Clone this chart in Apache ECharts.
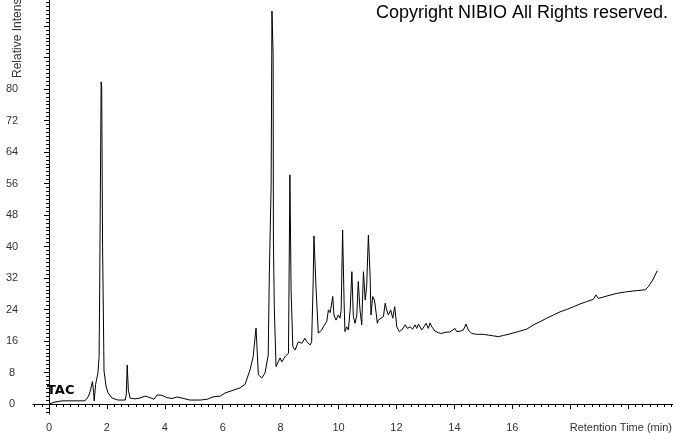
<!DOCTYPE html>
<html><head><meta charset="utf-8">
<script src="https://cdn.jsdelivr.net/npm/echarts@6/dist/echarts.min.js"></script>
<style>html,body{margin:0;padding:0;background:#fff}#c{width:673px;height:433px}</style>
</head><body><div id="c"></div>
<script>
// Retention time (min)
const times = [0,0.21,0.45,0.90,1.24,1.35,1.42,1.50,1.54,1.56,1.61,1.64,1.69,1.73,1.75,1.80,1.82,1.85,1.90,1.97,2.04,2.18,2.38,2.63,2.67,2.70,2.74,2.80,2.97,3.14,3.32,3.49,3.63,3.73,3.90,4.08,4.25,4.42,4.59,4.87,5.22,5.46,5.66,5.91,6.08,6.32,6.60,6.77,6.94,7.05,7.15,7.23,7.35,7.46,7.52,7.57,7.61,7.67,7.70,7.74,7.75,7.78,7.84,7.90,7.98,8.04,8.15,8.27,8.32,8.36,8.42,8.50,8.61,8.73,8.84,8.90,9.02,9.07,9.12,9.15,9.22,9.30,9.42,9.47,9.59,9.65,9.71,9.80,9.84,9.91,9.99,10.05,10.09,10.14,10.19,10.22,10.28,10.34,10.40,10.46,10.51,10.57,10.63,10.68,10.74,10.80,10.86,10.92,10.97,11.03,11.06,11.09,11.12,11.18,11.24,11.30,11.34,11.37,11.43,11.55,11.61,11.66,11.72,11.80,11.87,11.94,12.01,12.10,12.18,12.30,12.38,12.47,12.56,12.64,12.70,12.76,12.87,12.95,13.02,13.10,13.16,13.22,13.33,13.45,13.56,13.68,13.85,14.02,14.08,14.20,14.31,14.40,14.48,14.60,14.77,15.00,15.17,15.35,15.52,15.69,15.92,16.21,16.50,16.73,16.96,17.19,17.42,17.65,17.88,18.11,18.34,18.57,18.80,18.89,18.97,19.26,19.61,19.95,20.30,20.59,20.70,20.85,21.01];
// Relative intensity
const intensity = [0,0.5,0.8,0.8,0.8,1.8,3.1,5.7,3.0,0.8,5.0,6.1,7.9,12,29,81.8,80.5,40,8.4,4.5,2.8,1.5,1.0,1.0,2.5,9.9,3.5,1.5,1.3,1.5,2.0,1.6,1.2,2.3,2.2,1.6,1.4,1.8,1.5,1.0,1.0,1.2,1.8,2.0,2.8,3.4,4.1,5.0,8.6,12,19.3,7.4,6.6,7.9,7.5,12.4,33.5,54.9,99.8,88.6,41.6,24.7,9.5,9.1,11.7,10.7,12.0,12.9,58.2,29,14.6,13.7,15.8,15.4,16.7,15.8,15.0,15.8,30,42.7,29.8,18,18.8,19.6,20.9,23.9,23.2,27.3,22.6,21.3,22.6,21.8,23.9,44.2,26,18.4,19.6,18.8,23.9,33.6,22.2,20.5,22.6,31.1,23.9,20.1,33.6,26.4,29.8,42.9,43.3,32.3,22.6,27.3,26.4,23.0,20.5,21.3,21.8,22.2,25.6,23.9,22.6,23.9,21.8,24.7,19.6,18.4,18.8,20.1,19.2,19.6,19.0,20.1,19.2,20.3,18.8,19.6,20.5,19.2,20.6,19.6,18.5,18.1,17.9,18.2,18.3,19.2,18.4,18.5,18.8,20.3,18.8,17.9,17.7,17.7,17.5,17.3,17.1,17.4,17.8,18.4,19.0,20.1,20.9,21.8,22.6,23.4,24.0,24.7,25.4,26.0,26.6,27.7,26.8,27.4,28.1,28.5,28.8,29.0,29.8,31.5,33.9];
const xTickLabels = [0,2,4,6,8,10,12,14,16];
const yTickLabels = [0,8,16,24,32,40,48,56,64,72,80];

const xMajor = [], xMinor = [], yMajor = [], yMinor = [];
for (let v = -0.5; v <= 21.5 + 1e-9; v += 0.25) {
  const r = Math.round(v * 100) / 100;
  if (Math.abs(r / 2 - Math.round(r / 2)) < 1e-6) xMajor.push(r); else xMinor.push(r);
}
for (let v = -2; v <= 102; v++) { if (v % 8 === 0) yMajor.push(v); else yMinor.push(v); }

const XMIN = -0.553, XMAX = 21.55, YMIN = -2.54, YMAX = 102.6;
const labelStyle = { color: '#333', fontFamily: 'Liberation Sans, Arial, sans-serif', fontSize: 11 };
const chart = echarts.init(document.getElementById('c'), null, { renderer: 'canvas' });
chart.setOption({
  animation: false,
  backgroundColor: '#fff',
  grid: { left: 33, right: 0, top: 0, bottom: 19, containLabel: false },
  xAxis: [
    { type: 'value', min: XMIN, max: XMAX, position: 'bottom',
      axisLine: { show: true, lineStyle: { color: '#000', width: 1 } },
      axisTick: { show: true, length: 5, customValues: xMajor, lineStyle: { color: '#000' } },
      axisLabel: { show: true, margin: 8, customValues: xTickLabels, ...labelStyle },
      splitLine: { show: false } },
    { type: 'value', min: XMIN, max: XMAX, position: 'bottom',
      axisLine: { show: false },
      axisTick: { show: true, length: 3, customValues: xMinor, lineStyle: { color: '#000' } },
      axisLabel: { show: false }, splitLine: { show: false } }
  ],
  yAxis: [
    { type: 'value', min: YMIN, max: YMAX, position: 'left',
      axisLine: { show: true, lineStyle: { color: '#000', width: 1 } },
      axisTick: { show: true, length: 5, customValues: yMajor, lineStyle: { color: '#000' } },
      axisLabel: { show: true, margin: 21, align: 'center', customValues: yTickLabels, ...labelStyle },
      splitLine: { show: false } },
    { type: 'value', min: YMIN, max: YMAX, position: 'left',
      axisLine: { show: false },
      axisTick: { show: true, length: 3, customValues: yMinor, lineStyle: { color: '#000' } },
      axisLabel: { show: false }, splitLine: { show: false } }
  ],
  series: [{
    type: 'line', xAxisIndex: 0, yAxisIndex: 0,
    data: times.map((t, i) => [t, intensity[i]]),
    showSymbol: false, symbol: 'none', smooth: false,
    lineStyle: { color: '#000', width: 1 }
  }],
  graphic: [
    { type: 'text', left: 376, top: 4, style: { text: 'Copyright NIBIO All Rights reserved.', fill: '#000', font: '18px "Liberation Sans", Arial, sans-serif' } },
    { type: 'text', right: 1, top: 422, style: { text: 'Retention Time (min)', fill: '#333', font: '11px "Liberation Sans", Arial, sans-serif' } },
    { type: 'text', x: 18, y: 78, rotation: Math.PI / 2, style: { text: 'Relative Intensity', fill: '#333', font: '12px "Liberation Sans", Arial, sans-serif', textAlign: 'left', textVerticalAlign: 'middle' } },
    { type: 'text', left: 47, top: 384, style: { text: 'TAC', fill: '#000', font: 'bold 13px "DejaVu Sans", sans-serif' } }
  ]
});
</script></body></html>
